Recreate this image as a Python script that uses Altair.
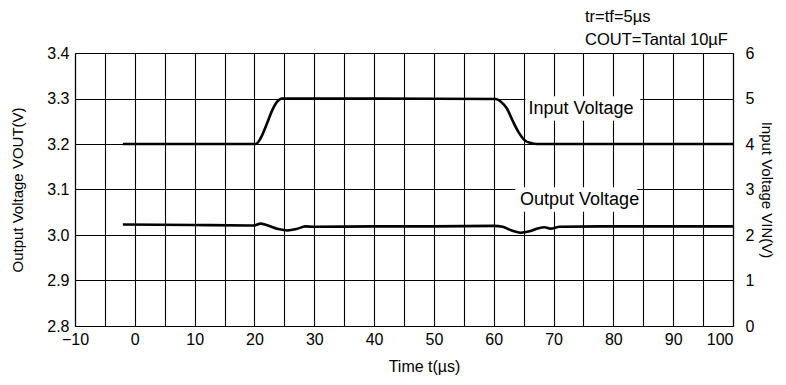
import altair as alt
import pandas as pd

# Output voltage (left axis, V)
t_out = [-2, 10, 20, 21, 22, 24, 25.5, 27, 28.5, 30, 40, 50, 60, 61.5, 63, 64.5, 66, 67.5, 68.5, 69.5, 71, 80, 90, 100]
v_out = [3.023, 3.022, 3.021, 3.025, 3.022, 3.013, 3.010, 3.013, 3.019, 3.018, 3.019, 3.019, 3.020, 3.018,
         3.010, 3.005, 3.008, 3.015, 3.017, 3.014, 3.018, 3.019, 3.019, 3.019]

# Input voltage (right axis, V)
t_in = [-2, 20.2, 21.0, 22.0, 23.0, 23.8, 24.6, 40, 60.3, 61.2, 62.2, 63.2, 64.2, 65.2, 66.2, 67.2, 100]
v_in = [4.0, 4.0, 4.12, 4.42, 4.75, 4.93, 5.0, 5.0, 4.99, 4.93, 4.78, 4.5, 4.25, 4.08, 4.02, 4.0, 4.0]

# Curve labels (placed on the input-voltage scale)
lab_text = ["Input Voltage", "Output Voltage"]
lab_t = [65.8, 64.4]
lab_v = [4.78, 2.78]

# Condition notes
note_text = ["tr=tf=5µs", "COUT=Tantal 10µF"]

x_ticks = list(range(-10, 101, 5))
FONT = "Liberation Sans"

df_out = pd.DataFrame({"t": t_out, "v": v_out})
df_in = pd.DataFrame({"t": t_in, "v": v_in})
df_lab = pd.DataFrame({"t": lab_t, "v": lab_v, "txt": lab_text})
df_note = pd.DataFrame({"txt": note_text, "row": [0, 1]})

xaxis = alt.Axis(values=x_ticks, title="Time t(µs)",
                 labelExpr="datum.value % 10 == 0 ? datum.label : ''",
                 labelFlush=False,
                 labelAlign={"condition": {"test": "datum.value == 100", "value": "right"},
                             "value": "center"},
                 grid=True, gridColor="black", gridWidth=1.1, gridOpacity=1,
                 ticks=False, domain=True, domainColor="black", domainWidth=1.2,
                 labelFontSize=16, labelFont=FONT, labelColor="black", labelPadding=5,
                 titleFontSize=16, titleFont=FONT, titleFontWeight="normal",
                 titleColor="black", titlePadding=11, titleX=349)
xscale = alt.Scale(domain=[-10, 100], nice=False, zero=False)


def xenc(field="t"):
    return alt.X(f"{field}:Q", scale=xscale, axis=xaxis)


out_line = alt.Chart(df_out).mark_line(color="black", strokeWidth=2.6, interpolate="monotone").encode(
    x=xenc(),
    y=alt.Y("v:Q", scale=alt.Scale(domain=[2.8, 3.4], nice=False, zero=False),
            axis=alt.Axis(orient="left", values=[2.8, 2.9, 3.0, 3.1, 3.2, 3.3, 3.4], format=".1f",
                          title="Output Voltage VOUT(V)", grid=True, gridColor="black",
                          gridWidth=1.1, gridOpacity=1, ticks=False, domainColor="black",
                          domainWidth=1.2, labelFontSize=16, labelFont=FONT, labelColor="black",
                          labelPadding=6, titleFontSize=15, titleFont=FONT,
                          titleFontWeight="normal", titleColor="black", titlePadding=21)),
)

yin_scale = alt.Scale(domain=[0, 6], nice=False, zero=False)
yin_axis = alt.Axis(orient="right", values=[0, 1, 2, 3, 4, 5, 6], format="d",
                    title="Input Voltage VIN(V)", grid=False, ticks=False,
                    domainColor="black", domainWidth=1.2, labelFontSize=16, labelFont=FONT,
                    labelColor="black", labelPadding=12, titleFontSize=15, titleFont=FONT,
                    titleFontWeight="normal", titleColor="black", titlePadding=5)


def yin(field="v"):
    return alt.Y(f"{field}:Q", scale=yin_scale, axis=yin_axis)


in_line = alt.Chart(df_in).mark_line(color="black", strokeWidth=2.6, interpolate="monotone").encode(
    x=xenc(), y=yin())

# white boxes behind the curve labels (they hide the grid, as in the original)
boxes = alt.Chart(df_lab).transform_calculate(
    t1="datum.t - (datum.txt == 'Input Voltage' ? 0.5 : 0.8)",
    t2="datum.t + (datum.txt == 'Input Voltage' ? 18.7 : 19.6)",
    v1="datum.v - 0.27", v2="datum.v + 0.27",
).mark_rect(color="white").encode(
    x=xenc("t1"), x2="t2:Q", y=yin("v1"), y2="v2:Q")

labels = alt.Chart(df_lab).mark_text(align="left", baseline="middle", fontSize=18, font=FONT,
                                     color="black").encode(
    x=xenc(), y=yin(), text="txt:N")

notes = alt.Chart(df_note).mark_text(align="left", baseline="middle", fontSize=16.5, font=FONT,
                                     color="black").encode(
    x=alt.value(510),
    y=alt.Y("row:Q", scale=alt.Scale(domain=[0, 1], range=[-36, -13], nice=False, zero=False),
            axis=None),
    text="txt:N")

right = alt.layer(in_line, boxes, labels)

chart = alt.layer(out_line, right, notes).resolve_scale(y="independent").properties(
    width=658, height=273,
    autosize=alt.AutoSizeParams(type="none"),
    padding={"left": 67, "top": 45, "right": 45, "bottom": 51},
).configure_view(stroke="black", strokeWidth=1.2).configure(background="white")

chart.save("out.html", embed_options={"renderer": "svg", "actions": False})
